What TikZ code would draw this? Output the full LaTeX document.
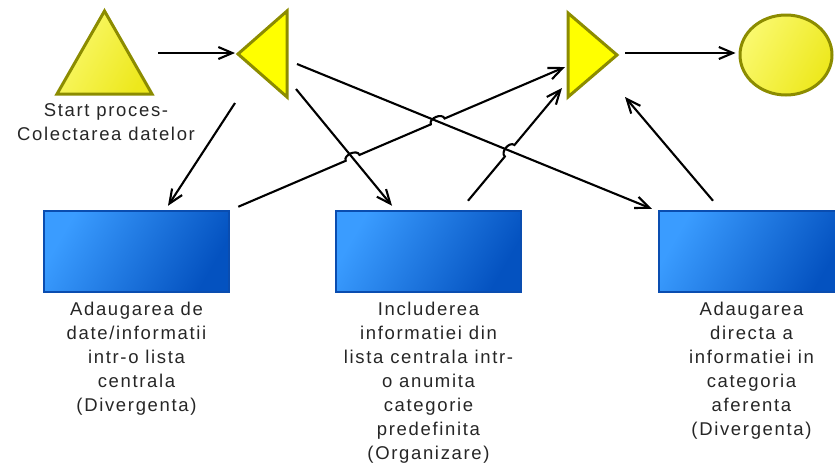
\documentclass[tikz,border=0pt]{standalone}
\usepackage{fontspec}
\newfontfamily\lblfont[LetterSpace=9]{Liberation Sans}
\usetikzlibrary{arrows.meta,calc,intersections,shapes.geometric}
\definecolor{triedge}{HTML}{8C8C00}
\definecolor{trilight}{HTML}{FAF96E}
\definecolor{tridark}{HTML}{EDE81C}
\definecolor{triflat}{HTML}{FFFF00}
\definecolor{boxedge}{HTML}{0A4DB0}
\definecolor{boxlight}{HTML}{3A9CFF}
\definecolor{boxdark}{HTML}{0452C0}
\begin{document}
\begin{tikzpicture}[x=1pt,y=-1pt,
  tribox/.style={inner sep=0pt,outer sep=0pt,minimum width=#1},
  gateshape/.style={draw=triedge,line width=3pt,fill=triflat,line join=miter},
  startshape/.style={draw=triedge,line width=3pt,left color=trilight,right color=tridark,shading angle=60,line join=miter},
  endshape/.style={ellipse,draw=triedge,line width=3pt,left color=trilight,right color=tridark,shading angle=60,minimum width=92pt,minimum height=80pt,inner sep=0pt},
  taskbox/.style={rectangle,draw=boxedge,line width=2.5pt,left color=boxlight,right color=boxdark,shading angle=60,minimum width=185pt,minimum height=81pt,inner sep=0pt},
  lbl/.style={font=\lblfont\fontsize{18.5}{24}\selectfont,align=center,inner sep=0pt,text=black!85,anchor=north},
  link/.style={line width=2.1pt,draw=black,-{Straight Barb[length=14pt,width=12pt]}},
  hop/.style={bend left=90,looseness=1.1}]
\useasboundingbox (0,0) rectangle (835,464);
\clip (0,0) rectangle (835,464);

% shapes: start event, split gateway, join gateway, end event
\node[tribox=95pt,minimum height=83pt] (s) at (104.5,52.5) {};
\fill[startshape] (s.south west) -- (s.south east) -- (s.north) -- cycle;
\node[tribox=49pt,minimum height=86pt] (m) at (262.5,54) {};
\fill[gateshape] (m.north east) -- (m.south east) -- (m.west) -- cycle;
\node[tribox=49pt,minimum height=84pt] (j) at (592.5,55) {};
\fill[gateshape] (j.north west) -- (j.south west) -- (j.east) -- cycle;
\node[endshape] (e) at (786,55) {};

% tasks
\node[taskbox] (b1) at (136.5,251.5) {};
\node[taskbox] (b2) at (428.5,251.5) {};
\node[taskbox] (b3) at (751.5,251.5) {};

% labels
\node[lbl] (ls) at ($(s.south)+(1.5,9)$) {Start proces-\\Colectarea datelor};
\node[lbl] (l1) at ($(b1.south)+(0,9)$) {Adaugarea de\\date/informatii\\intr-o lista\\centrala\\(Divergenta)};
\node[lbl] (l2) at ($(b2.south)+(0,9)$) {Includerea\\informatiei din\\lista centrala intr-\\o anumita\\categorie\\predefinita\\(Organizare)};
\node[lbl] (l3) at ($(b3.south)+(0,9)$) {Adaugarea\\directa a\\informatiei in\\categoria\\aferenta\\(Divergenta)};

% connector ends
\coordinate (a1) at ($(s.east)+(6,0.5)$);
\coordinate (z1) at ($(m.west)+(-3,-1)$);
\coordinate (a2) at ($(m.south west)+(-3,6)$);
\coordinate (z2) at ($(b1.north)+(31.5,-4)$);
\coordinate (a3) at ($(m.south east)+(9,-8)$);
\coordinate (z3) at ($(b2.north)+(-36.5,-4)$);
\coordinate (a4) at ($(m.east)+(10,10)$);
\coordinate (z4) at ($(b3.north west)+(-6,-1)$);
\coordinate (a5) at ($(b1.north east)+(8,-3)$);
\coordinate (z5) at ($(j.west)+(-3,12)$);
\coordinate (a6) at ($(b2.north)+(39.5,-9)$);
\coordinate (z6) at ($(j.south west)+(-6,-9)$);
\coordinate (a7) at ($(b3.north)+(-38.5,-9)$);
\coordinate (z7) at ($(j.south east)+(8,0)$);
\coordinate (a8) at ($(j.east)+(8,-2)$);
\coordinate (z8) at ($(e.west)+(-3,-2)$);

% crossing points
\path[name path=p3] (a3) -- (z3);
\path[name path=p4] (a4) -- (z4);
\path[name path=p5] (a5) -- (z5);
\path[name path=p6] (a6) -- (z6);
\path[name intersections={of=p5 and p3,by=h1}];
\path[name intersections={of=p5 and p4,by=h2}];
\path[name intersections={of=p6 and p4,by=h3}];

% connectors
\draw[link] (a1) -- (z1);
\draw[link] (a2) -- (z2);
\draw[link] (a3) -- (z3);
\draw[link] (a4) -- (z4);
\draw[link] (a5) -- ($(h1)!7.5pt!(a5)$) to[hop] ($(h1)!7.5pt!(z5)$)
  -- ($(h2)!7.5pt!(a5)$) to[hop] ($(h2)!7.5pt!(z5)$) -- (z5);
\draw[link] (a6) -- ($(h3)!7.5pt!(a6)$) to[hop] ($(h3)!7.5pt!(z6)$) -- (z6);
\draw[link] (a7) -- (z7);
\draw[link] (a8) -- (z8);
\end{tikzpicture}
\end{document}
